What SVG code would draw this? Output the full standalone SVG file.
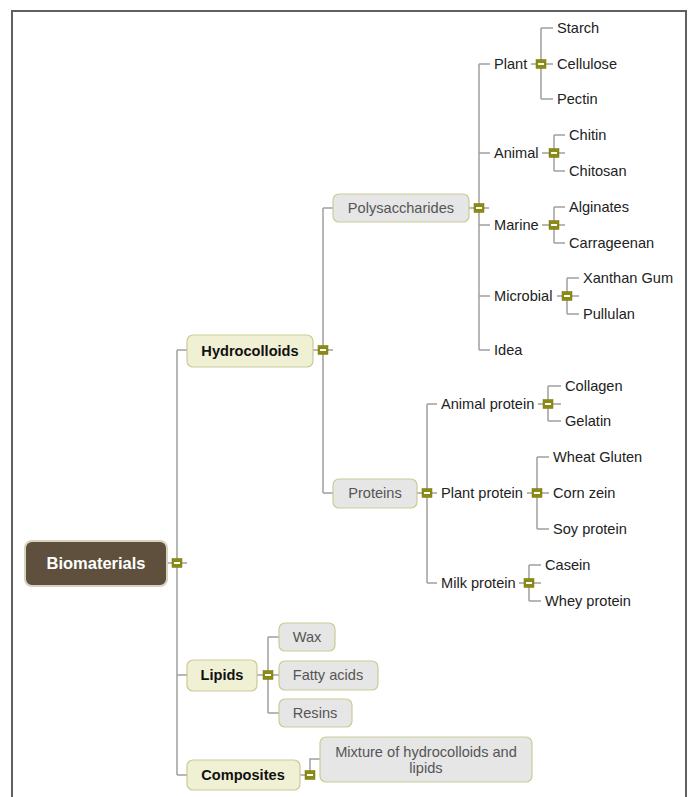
<svg xmlns="http://www.w3.org/2000/svg" width="688" height="797" viewBox="0 0 688 797">
<style>
.frame{fill:none;stroke:#606060;stroke-width:2}
.ln{fill:none;stroke:#a0a0a0;stroke-width:1.5}
.root rect{fill:#5e503c;stroke:#d8d2c0;stroke-width:2}
.root text{font-family:"Liberation Sans",Arial,sans-serif;font-size:16.5px;font-weight:bold;fill:#ffffff;text-anchor:middle}
.l1 rect{fill:#eff0d4;stroke:#c9cc96;stroke-width:1.2}
.l1 text{font-family:"Liberation Sans",Arial,sans-serif;font-size:14.6px;font-weight:bold;fill:#111;text-anchor:middle}
.l2 rect{fill:#e6e6e6;stroke:#c9cc96;stroke-width:1.2}
.l2 text{font-family:"Liberation Sans",Arial,sans-serif;font-size:14.6px;fill:#555;text-anchor:middle}
.lf{font-family:"Liberation Sans",Arial,sans-serif;font-size:14.6px;fill:#222}
.tg rect{fill:#8a8a14;stroke:#7a7a0a;stroke-width:0.5}
.tg line{stroke:#ffffff;stroke-width:2}
</style>
<defs>
<g id="tog" class="tg"><rect x="-5" y="-4.5" width="10" height="9"/><line x1="-3" y1="0" x2="3" y2="0"/></g>
</defs>
<path class="frame" d="M12,797 V11 H686 V797"/>
<g id="connectors">
<path class="ln" d="M167,563 H187 M177,350 V775 M177,350 H187 M177,675 H187 M177,775 H187"/>
<path class="ln" d="M313,350 H333 M323,208 V493 M323,208 H333 M323,493 H333"/>
<path class="ln" d="M469,208 H489 M479,64 V350 M479,64 H490 M479,153 H490 M479,225 H490 M479,296 H490 M479,350 H490"/>
<path class="ln" d="M531,64 H553 M541,28 V99 M541,28 H553 M541,99 H553"/>
<path class="ln" d="M542,153 H565 M554,135 V171 M554,135 H565 M554,171 H565"/>
<path class="ln" d="M542,225 H565 M554,207 V243 M554,207 H565 M554,243 H565"/>
<path class="ln" d="M557,296 H579 M567,278 V314 M567,278 H579 M567,314 H579"/>
<path class="ln" d="M417,493 H437 M427,404 V583 M427,404 H437 M427,583 H437"/>
<path class="ln" d="M538,404 H561 M548,386 V421 M548,386 H561 M548,421 H561"/>
<path class="ln" d="M527,493 H549 M537,457 V529 M537,457 H549 M537,529 H549"/>
<path class="ln" d="M519,583 H541 M529,565 V601 M529,565 H541 M529,601 H541"/>
<path class="ln" d="M257,675 H279 M268,637 V713 M268,637 H279 M268,713 H279"/>
<path class="ln" d="M300,775 H310 M310,775 V759 H320"/>
</g>
<g id="n-biomaterials" class="root"><rect x="25" y="541" width="142" height="45" rx="7"/><text x="96" y="569">Biomaterials</text></g>
<g id="n-hydrocolloids" class="l1"><rect x="187" y="335" width="126" height="32" rx="6"/><text x="250" y="356">Hydrocolloids</text></g>
<g id="n-lipids" class="l1"><rect x="187" y="660" width="70" height="31" rx="6"/><text x="222" y="680">Lipids</text></g>
<g id="n-composites" class="l1"><rect x="187" y="760" width="113" height="30" rx="6"/><text x="243" y="780">Composites</text></g>
<g id="n-polysaccharides" class="l2"><rect x="333" y="194" width="136" height="28" rx="6"/><text x="401" y="213">Polysaccharides</text></g>
<g id="n-proteins" class="l2"><rect x="333" y="479" width="84" height="29" rx="6"/><text x="375" y="498">Proteins</text></g>
<g id="n-wax" class="l2"><rect x="279" y="623" width="56" height="28" rx="6"/><text x="307" y="642">Wax</text></g>
<g id="n-fatty" class="l2"><rect x="279" y="661" width="99" height="29" rx="6"/><text x="328" y="680">Fatty acids</text></g>
<g id="n-resins" class="l2"><rect x="279" y="699" width="73" height="28" rx="6"/><text x="315" y="718">Resins</text></g>
<g id="n-mixture" class="l2"><rect x="320" y="737" width="212" height="45" rx="6"/><text x="426" y="757">Mixture of hydrocolloids and</text><text x="426" y="773">lipids</text></g>
<g id="n-plant"><text class="lf" x="494" y="69">Plant</text></g>
<g id="n-starch"><text class="lf" x="557" y="33">Starch</text></g>
<g id="n-cellulose"><text class="lf" x="557" y="69">Cellulose</text></g>
<g id="n-pectin"><text class="lf" x="557" y="104">Pectin</text></g>
<g id="n-animal"><text class="lf" x="494" y="158">Animal</text></g>
<g id="n-chitin"><text class="lf" x="569" y="140">Chitin</text></g>
<g id="n-chitosan"><text class="lf" x="569" y="176">Chitosan</text></g>
<g id="n-marine"><text class="lf" x="494" y="230">Marine</text></g>
<g id="n-alginates"><text class="lf" x="569" y="212">Alginates</text></g>
<g id="n-carrageenan"><text class="lf" x="569" y="248">Carrageenan</text></g>
<g id="n-microbial"><text class="lf" x="494" y="301">Microbial</text></g>
<g id="n-xanthan"><text class="lf" x="583" y="283">Xanthan Gum</text></g>
<g id="n-pullulan"><text class="lf" x="583" y="319">Pullulan</text></g>
<g id="n-idea"><text class="lf" x="494" y="355">Idea</text></g>
<g id="n-animalprotein"><text class="lf" x="441" y="409">Animal protein</text></g>
<g id="n-collagen"><text class="lf" x="565" y="391">Collagen</text></g>
<g id="n-gelatin"><text class="lf" x="565" y="426">Gelatin</text></g>
<g id="n-plantprotein"><text class="lf" x="441" y="498">Plant protein</text></g>
<g id="n-wheat"><text class="lf" x="553" y="462">Wheat Gluten</text></g>
<g id="n-corn"><text class="lf" x="553" y="498">Corn zein</text></g>
<g id="n-soy"><text class="lf" x="553" y="534">Soy protein</text></g>
<g id="n-milkprotein"><text class="lf" x="441" y="588">Milk protein</text></g>
<g id="n-casein"><text class="lf" x="545" y="570">Casein</text></g>
<g id="n-whey"><text class="lf" x="545" y="606">Whey protein</text></g>
<g id="toggles">
<use href="#tog" x="177" y="563"/>
<use href="#tog" x="323" y="350"/>
<use href="#tog" x="268" y="675"/>
<use href="#tog" x="310" y="775"/>
<use href="#tog" x="479" y="208"/>
<use href="#tog" x="427" y="493"/>
<use href="#tog" x="541" y="64"/>
<use href="#tog" x="554" y="153"/>
<use href="#tog" x="554" y="225"/>
<use href="#tog" x="567" y="296"/>
<use href="#tog" x="548" y="404"/>
<use href="#tog" x="537" y="493"/>
<use href="#tog" x="529" y="583"/>
</g>
</svg>
